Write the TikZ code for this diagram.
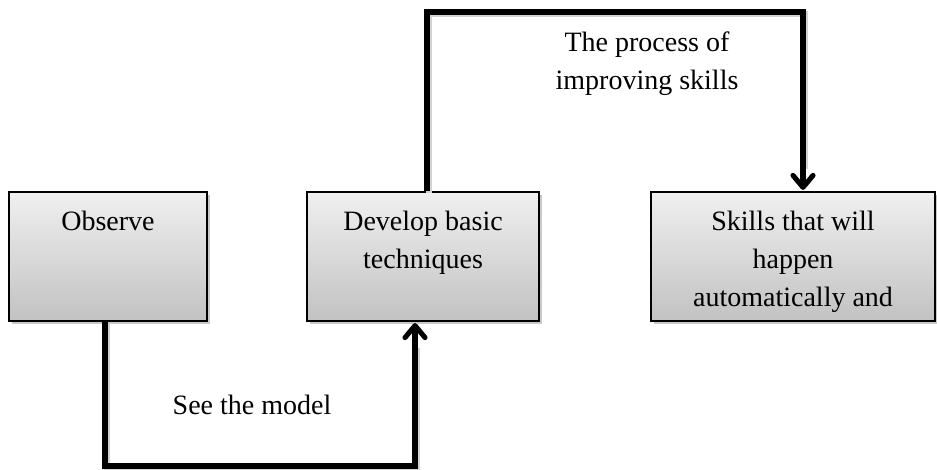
\documentclass[tikz,border=0pt]{standalone}
\usepackage{fontspec}
\setmainfont{Liberation Serif}
\usetikzlibrary{arrows.meta,shadows,calc}
\begin{document}
\begin{tikzpicture}[x=0.75pt,y=-0.75pt,
  box/.style={draw=black, line width=1.1pt, inner sep=0pt, top color=gray!12, bottom color=gray!48,
    drop shadow={shadow xshift=2pt, shadow yshift=-2.5pt, opacity=0.35, fill=black!60}},
  conn/.style={draw=black, line width=3.8pt, line join=miter},
  arr/.style={-{Straight Barb[length=9pt,width=15pt,line cap=round,line join=round]}},
  lbl/.style={font=\fontsize{21}{28.5}\selectfont, align=center, inner sep=0pt}
]
\newcommand{\boxtext}[2]{\parbox[c][96.75pt][t]{#1}{\centering\fontsize{21}{28.5}\selectfont\rule{0pt}{28.5pt}#2}}
\useasboundingbox (0,0) rectangle (937,470);
\fill[white] (0,0) rectangle (937,470);

\node[box] (obs) at (108,256.5) {\boxtext{148.5pt}{Observe}};
\node[box] (dev) at (423,256.5) {\boxtext{174pt}{Develop basic\\techniques}};
\node[box] (sk)  at (793,256.5) {\boxtext{213pt}{Skills that will\\happen\\automatically and}};

\coordinate (b1) at (105,466);
\coordinate (b2) at (415,466);
\coordinate (t1) at (427,12);
\coordinate (t2) at (803,12);

% faint line shadows
\draw[gray!35, line width=3.8pt, transform canvas={xshift=1.5pt,yshift=-1.5pt}] (obs.south -| b1) -- (b1) -- (b2) -- ([yshift=-18pt]b2 |- dev.south);
\draw[gray!35, line width=3.8pt, transform canvas={xshift=1.5pt,yshift=-1.5pt}] (t1 |- dev.north) -- (t1) -- (t2) -- ([yshift=18pt]t2 |- sk.north);

\draw[conn, arr] (obs.south -| b1) -- (b1) -- (b2) -- ([yshift=-1pt]b2 |- dev.south);
\draw[conn, arr] (t1 |- dev.north) -- (t1) -- (t2) -- ([yshift=1pt]t2 |- sk.north);

\node[lbl, anchor=base] (see) at (252,414) {See the model};
\node[lbl, anchor=base] (proc) at (647,90) {The process of\\improving skills};
\end{tikzpicture}
\end{document}
